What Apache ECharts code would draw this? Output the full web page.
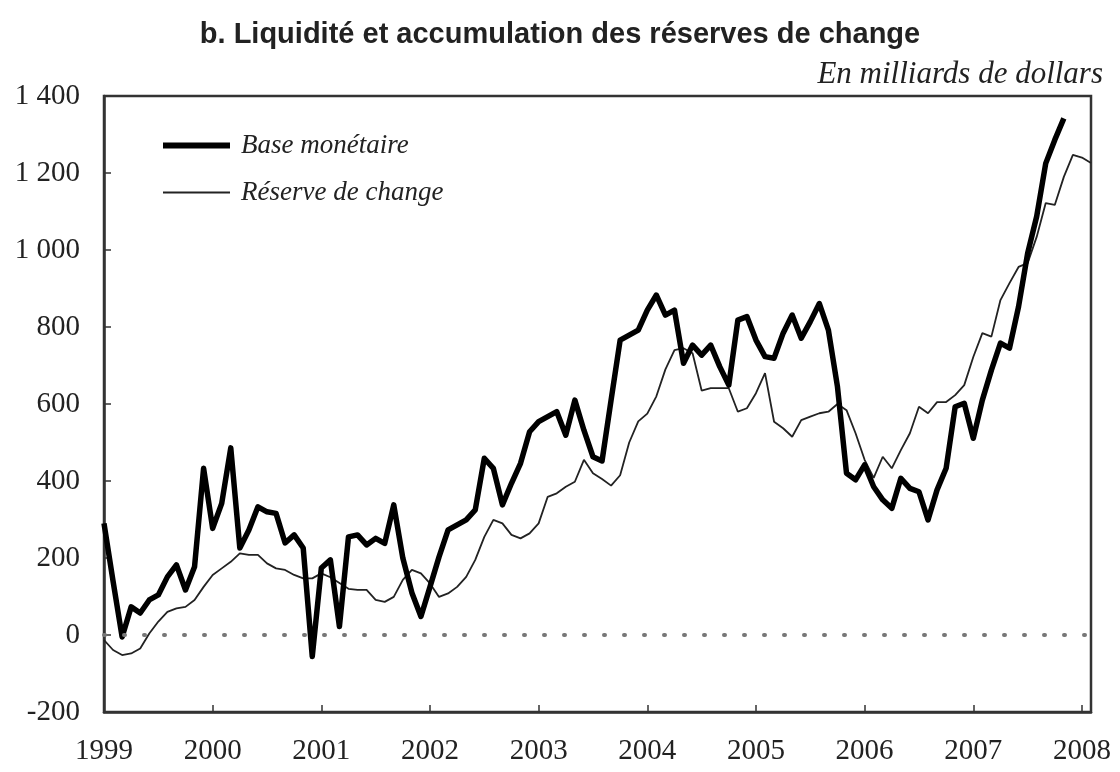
<!DOCTYPE html>
<html>
<head>
<meta charset="utf-8">
<script src="https://cdn.jsdelivr.net/npm/echarts@6/dist/echarts.min.js"></script>
<style>
html, body { margin: 0; padding: 0; background: #fff; }
#chart { width: 1120px; height: 772px; }
</style>
</head>
<body>
<div id="chart"></div>
<script>
// mois de janvier 1999 a fevrier 2008
var months = [];
for (var y = 1999; y <= 2008; y++) {
	for (var m = 1; m <= 12; m++) {
		if (y === 2008 && m > 2) break;
		months.push(y + '-' + (m < 10 ? '0' + m : m));
	}
}

// Base monetaire (milliards de dollars), 1999-01 .. 2007-11
var baseMonetaire = [
	290, 140, -5, 73, 57, 91, 104, 151, 182, 117, 177, 433,
	277, 342, 486, 226, 273, 333, 320, 316, 239, 260, 226, -56,
	174, 195, 22, 255, 260, 234, 251, 238, 338, 200, 110, 48,
	125, 203, 273, 286, 299, 325, 459, 433, 338, 394, 446, 528,
	554, 567, 580, 519, 610, 532, 463, 452, 610, 766, 779, 792,
	844, 883, 831, 844, 706, 753, 727, 753, 697, 649, 818, 827,
	766, 723, 719, 784, 831, 771, 814, 861, 792, 645, 420, 403,
	442, 385, 351, 329, 407, 381, 372, 299, 377, 433, 593, 602,
	511, 610, 688, 758, 745, 853, 991, 1087, 1225, 1286, 1342
];

// Reserve de change, 1999-01 .. 2008-02
var reserveChange = [
	-13, -39, -52, -48, -35, 4, 35, 60, 69, 73, 91, 125,
	156, 173, 190, 212, 208, 208, 186, 173, 169, 156, 147, 147,
	160, 150, 135, 120, 117, 117, 91, 86, 99, 143, 169, 160,
	134, 99, 108, 125, 151, 195, 255, 299, 290, 260, 251, 264,
	290, 359, 368, 385, 398, 455, 420, 405, 388, 415, 500, 555,
	575, 620, 690, 740, 745, 732, 635, 641, 641, 641, 580, 589,
	628, 680, 554, 537, 515, 558, 567, 576, 580, 600, 584, 524,
	455, 408, 463, 433, 480, 524, 593, 576, 605, 605, 623, 649,
	722, 784, 775, 870, 914, 956, 966, 1034, 1122, 1117, 1190, 1247,
	1240, 1226
];

var yTicks = [-200, 0, 200, 400, 600, 800, 1000, 1200, 1400];

function fmtY(v) {
	if (Math.abs(v) >= 1000) {
		var r = String(Math.abs(v) % 1000);
		while (r.length < 3) r = '0' + r;
		return (v < 0 ? '-' : '') + Math.floor(Math.abs(v) / 1000) + ' ' + r;
	}
	return String(v);
}

var serif = '"Liberation Serif", "Times New Roman", serif';

var chart = echarts.init(document.getElementById('chart'));
chart.setOption({
	animation: false,
	backgroundColor: '#fff',
	title: [{
		text: 'b. Liquidité et accumulation des réserves de change',
		left: 'center',
		top: 15,
		textStyle: { fontFamily: '"Liberation Sans", Arial, sans-serif', fontWeight: 'bold', fontSize: 29, color: '#222' }
	}, {
		text: 'En milliards de dollars',
		right: 12,
		top: 54,
		textStyle: { fontFamily: serif, fontStyle: 'italic', fontWeight: 'normal', fontSize: 31, color: '#222' }
	}],
	legend: {
		orient: 'vertical',
		left: 155,
		top: 127,
		itemWidth: 67,
		itemHeight: 14,
		itemGap: 20,
		itemStyle: { opacity: 0 },
		lineStyle: { width: 'inherit' },
		textStyle: { fontFamily: serif, fontStyle: 'italic', fontSize: 27, color: '#222', padding: [0, 0, 0, 6] },
		data: [
			{ name: 'Base monétaire', lineStyle: { width: 6, color: '#000' } },
			{ name: 'Réserve de change', lineStyle: { width: 2, color: '#222' } }
		]
	},
	grid: {
		left: 104, right: 29, top: 96, bottom: 60,
		show: true, borderColor: '#333', borderWidth: 2.5
	},
	xAxis: {
		type: 'category',
		data: months,
		boundaryGap: false,
		axisLine: { onZero: false, lineStyle: { color: '#333', width: 2.5 } },
		axisTick: { inside: true, length: 7, lineStyle: { color: '#333', width: 1.5 }, interval: function (i) { return i % 12 === 0; } },
		axisLabel: {
			interval: function (i) { return i % 12 === 0; },
			formatter: function (v) { return v.slice(0, 4); },
			margin: 25,
			fontFamily: serif, fontSize: 29, color: '#222'
		},
		splitLine: { show: false }
	},
	yAxis: {
		type: 'value',
		min: yTicks[0],
		max: yTicks[yTicks.length - 1],
		interval: 200,
		axisLine: { show: true, lineStyle: { color: '#333', width: 2.5 } },
		axisTick: { show: true, inside: true, length: 7, lineStyle: { color: '#333', width: 1.5 } },
		axisLabel: { formatter: fmtY, margin: 24, fontFamily: serif, fontSize: 29, color: '#222' },
		splitLine: { show: false }
	},
	series: [{
		name: 'Base monétaire',
		type: 'line',
		data: baseMonetaire,
		symbol: 'none',
		lineStyle: { width: 5.5, color: '#000', join: 'round' },
		itemStyle: { color: '#000' },
		markLine: {
			silent: true,
			symbol: ['none', 'none'],
			label: { show: false },
			lineStyle: { type: [1, 19], width: 4, cap: 'round', color: '#777' },
			data: [{ yAxis: 0 }]
		},
		z: 3
	}, {
		name: 'Réserve de change',
		type: 'line',
		data: reserveChange,
		symbol: 'none',
		lineStyle: { width: 1.8, color: '#222' },
		itemStyle: { color: '#222' },
		z: 2
	}]
});
</script>
</body>
</html>
